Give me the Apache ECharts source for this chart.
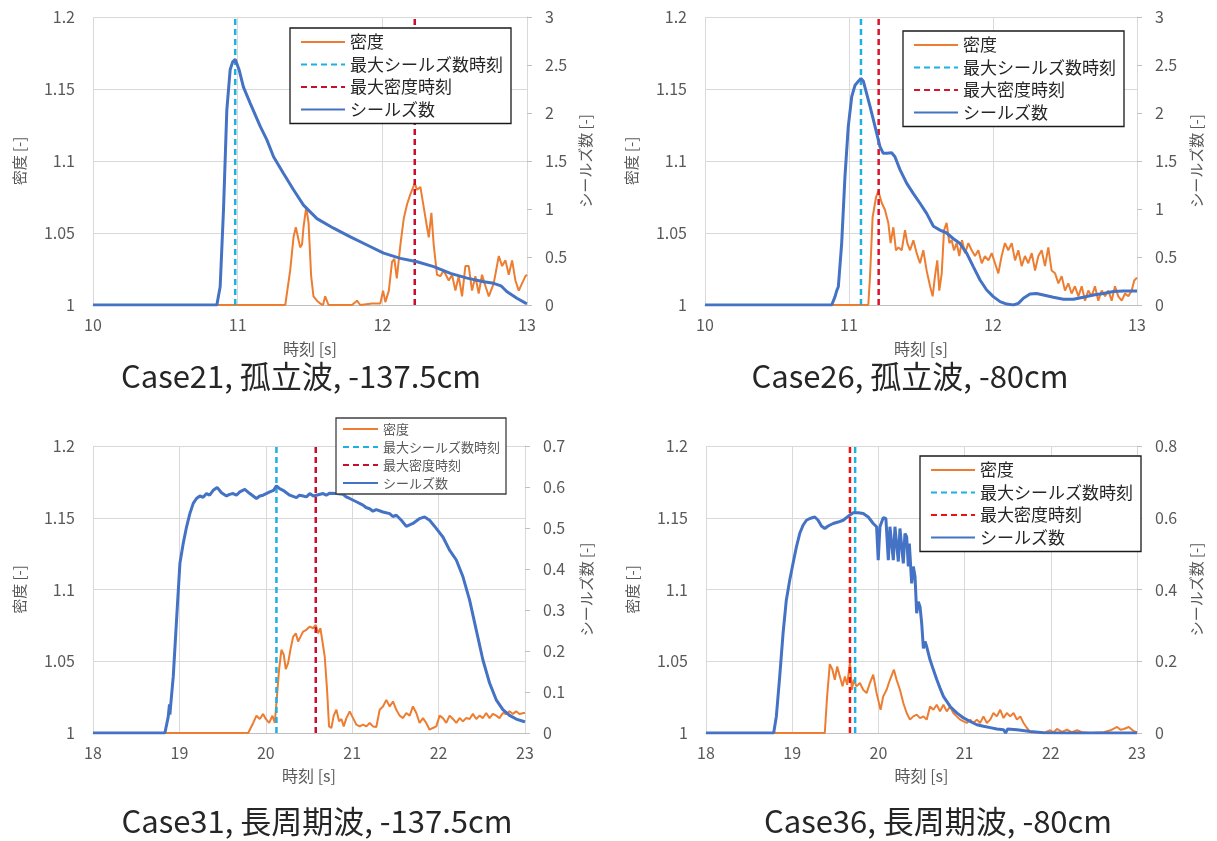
<!DOCTYPE html>
<html>
<head>
<meta charset="utf-8">
<script src="https://cdn.jsdelivr.net/npm/echarts@6/dist/echarts.min.js"></script>
<style>
  html, body { margin: 0; padding: 0; background: #ffffff; }
  #wrap { position: relative; width: 1217px; height: 841px; }
  .panel { position: absolute; }
</style>
</head>
<body>
<div id="wrap">
  <div id="p21" class="panel" style="left:0;top:0;width:608px;height:410px"></div>
  <div id="p26" class="panel" style="left:608px;top:0;width:609px;height:410px"></div>
  <div id="p31" class="panel" style="left:0;top:410px;width:608px;height:431px"></div>
  <div id="p36" class="panel" style="left:608px;top:410px;width:609px;height:431px"></div>
</div>
<script>
// ---- Series names (legend) ----
const NAME_DENSITY = '密度';
const NAME_MAX_SHIELDS_T = '最大シールズ数時刻';
const NAME_MAX_DENSITY_T = '最大密度時刻';
const NAME_SHIELDS = 'シールズ数';

// ---- Case21, 孤立波, -137.5cm : [time s, value] ----
const case21Density = [
  [10,1],[11.329,1],[11.363,1.024],[11.386,1.047],[11.402,1.054],[11.432,1.040],[11.445,1.042],
  [11.455,1.054],[11.474,1.068],[11.490,1.057],[11.508,1.020],[11.524,1.006],[11.548,1.003],
  [11.571,1.001],[11.59,1.0],[11.605,1.006],[11.628,1.0],[11.709,1.0],[11.79,1.0],[11.825,1.003],
  [11.847,1.0],[11.93,1.001],[11.986,1.001],[12.005,1.010],[12.021,1.002],[12.045,1.010],
  [12.067,1.030],[12.083,1.032],[12.10,1.0185],[12.125,1.042],[12.148,1.060],[12.171,1.070],
  [12.194,1.077],[12.224,1.0845],[12.240,1.080],[12.263,1.082],[12.286,1.068],[12.309,1.054],
  [12.321,1.047],[12.339,1.064],[12.355,1.042],[12.378,1.021],[12.401,1.020],[12.424,1.024],
  [12.459,1.017],[12.482,1.021],[12.505,1.010],[12.528,1.020],[12.551,1.006],[12.574,1.027],
  [12.597,1.027],[12.620,1.010],[12.643,1.020],[12.666,1.008],[12.689,1.021],[12.713,1.013],
  [12.736,1.006],[12.770,1.015],[12.805,1.034],[12.828,1.027],[12.851,1.031],[12.874,1.021],
  [12.897,1.031],[12.920,1.017],[12.943,1.010],[12.966,1.015],[12.989,1.020],[13,1.021]
];
const case21Shields = [
  [10,0],[10.856,0],[10.879,0.19],[10.902,0.99],[10.925,2.03],[10.948,2.45],[10.965,2.53],
  [10.983,2.56],[11.01,2.45],[11.04,2.27],[11.087,2.10],[11.156,1.86],[11.202,1.72],[11.248,1.545],
  [11.317,1.37],[11.386,1.20],[11.455,1.04],[11.548,0.90],[11.663,0.80],[11.779,0.71],[11.894,0.625],
  [12.009,0.54],[12.125,0.486],[12.24,0.45],[12.355,0.40],[12.471,0.33],[12.586,0.28],[12.701,0.243],
  [12.77,0.226],[12.82,0.20],[12.86,0.14],[12.93,0.07],[12.99,0.02],[13,0.015]
];
const case21MaxShieldsTime = 10.983;
const case21MaxDensityTime = 12.224;

// ---- Case26, 孤立波, -80cm ----
const case26Density = [
  [10,1],[11.134,1],[11.146,1.020],[11.164,1.061],[11.188,1.075],[11.204,1.079],[11.227,1.071],
  [11.250,1.066],[11.273,1.057],[11.289,1.043],[11.308,1.054],[11.326,1.038],[11.343,1.040],
  [11.366,1.038],[11.389,1.052],[11.405,1.043],[11.424,1.038],[11.447,1.045],[11.470,1.036],
  [11.493,1.029],[11.516,1.038],[11.539,1.024],[11.563,1.013],[11.581,1.006],[11.597,1.020],
  [11.613,1.031],[11.627,1.010],[11.644,1.022],[11.660,1.052],[11.678,1.057],[11.697,1.043],
  [11.713,1.045],[11.729,1.038],[11.748,1.043],[11.766,1.034],[11.785,1.045],[11.806,1.036],
  [11.829,1.043],[11.852,1.038],[11.875,1.034],[11.898,1.038],[11.922,1.029],[11.944,1.034],
  [11.968,1.031],[11.991,1.036],[12.014,1.029],[12.037,1.022],[12.060,1.034],[12.083,1.043],
  [12.106,1.038],[12.130,1.043],[12.153,1.031],[12.176,1.038],[12.199,1.027],[12.222,1.034],
  [12.245,1.029],[12.269,1.036],[12.292,1.024],[12.315,1.034],[12.338,1.038],[12.361,1.027],
  [12.384,1.040],[12.407,1.024],[12.431,1.022],[12.454,1.015],[12.477,1.020],[12.500,1.010],
  [12.523,1.015],[12.546,1.008],[12.569,1.013],[12.593,1.006],[12.616,1.013],[12.639,1.003],
  [12.662,1.010],[12.685,1.006],[12.708,1.013],[12.731,1.003],[12.755,1.010],[12.778,1.006],
  [12.801,1.010],[12.824,1.003],[12.847,1.013],[12.870,1.006],[12.894,1.003],[12.917,1.008],
  [12.940,1.006],[12.963,1.010],[12.981,1.017],[13,1.019]
];
const case26Shields = [
  [10,0],[10.88,0],[10.903,0.087],[10.915,0.15],[10.926,0.19],[10.949,0.64],[10.972,1.34],
  [10.995,1.86],[11.019,2.17],[11.042,2.29],[11.065,2.33],[11.083,2.36],[11.100,2.33],[11.123,2.20],
  [11.146,2.07],[11.169,1.93],[11.192,1.79],[11.215,1.65],[11.238,1.58],[11.262,1.58],[11.296,1.585],
  [11.319,1.545],[11.354,1.41],[11.400,1.27],[11.447,1.16],[11.493,1.06],[11.539,0.955],[11.586,0.82],
  [11.632,0.78],[11.678,0.75],[11.725,0.69],[11.771,0.64],[11.817,0.54],[11.863,0.40],[11.910,0.26],
  [11.956,0.156],[12.002,0.087],[12.049,0.035],[12.095,0.01],[12.141,0],[12.176,0.017],[12.211,0.07],
  [12.257,0.115],[12.303,0.12],[12.350,0.104],[12.419,0.08],[12.489,0.06],[12.558,0.06],[12.627,0.08],
  [12.697,0.104],[12.766,0.12],[12.836,0.14],[12.905,0.146],[12.975,0.146],[13,0.146]
];
const case26MaxShieldsTime = 11.083;
const case26MaxDensityTime = 11.206;

// ---- Case31, 長周期波, -137.5cm ----
const case31Density = [
  [18,1],[19.796,1],[19.854,1.007],[19.892,1.012],[19.931,1.0098],[19.969,1.0133],[20.000,1.0098],
  [20.039,1.007],[20.077,1.012],[20.104,1.007],[20.123,1.021],[20.154,1.0445],[20.181,1.058],
  [20.208,1.0545],[20.231,1.0445],[20.258,1.0487],[20.285,1.058],[20.316,1.067],[20.347,1.0695],
  [20.374,1.0638],[20.401,1.067],[20.432,1.0707],[20.470,1.0719],[20.509,1.0742],[20.547,1.073],
  [20.578,1.0753],[20.605,1.0695],[20.632,1.073],[20.655,1.0719],[20.682,1.0533],[20.709,1.0301],
  [20.732,1.0046],[20.759,1.0035],[20.786,1.0121],[20.817,1.0162],[20.848,1.0081],[20.875,1.0098],
  [20.902,1.0046],[20.933,1.0104],[20.971,1.0151],[21.010,1.0104],[21.048,1.0058],[21.087,1.0046],
  [21.125,1.0058],[21.164,1.0046],[21.202,1.007],[21.241,1.0046],[21.279,1.0042],[21.318,1.0162],
  [21.356,1.0185],[21.395,1.0231],[21.434,1.0185],[21.472,1.022],[21.511,1.0162],[21.549,1.0121],
  [21.588,1.0104],[21.626,1.0139],[21.665,1.0121],[21.703,1.0185],[21.742,1.0139],[21.780,1.007],
  [21.819,1.0104],[21.857,1.007],[21.896,1.0023],[21.934,1.0035],[21.973,1.0046],[22.012,1.0121],
  [22.050,1.0104],[22.089,1.007],[22.127,1.0121],[22.166,1.0098],[22.205,1.007],[22.243,1.0104],
  [22.281,1.0081],[22.320,1.0104],[22.359,1.0098],[22.397,1.0133],[22.436,1.0098],[22.474,1.0121],
  [22.513,1.0104],[22.551,1.0139],[22.590,1.0104],[22.628,1.0133],[22.667,1.0121],[22.705,1.0104],
  [22.744,1.0139],[22.783,1.0133],[22.821,1.0151],[22.859,1.0133],[22.898,1.0151],[22.936,1.0133],
  [22.986,1.0139],[23,1.014]
];
const case31Shields = [
  [18,0],[18.832,0],[18.871,0.04],[18.885,0.07],[18.89,0.045],[18.898,0.065],[18.929,0.138],
  [18.967,0.276],[19.006,0.414],[19.044,0.462],[19.083,0.503],[19.121,0.535],[19.160,0.56],
  [19.198,0.572],[19.237,0.578],[19.275,0.575],[19.314,0.584],[19.35,0.58],[19.391,0.592],
  [19.437,0.599],[19.487,0.586],[19.545,0.578],[19.58,0.582],[19.622,0.584],[19.66,0.58],
  [19.699,0.588],[19.757,0.594],[19.815,0.584],[19.892,0.572],[19.93,0.578],[19.969,0.580],
  [20.046,0.588],[20.09,0.592],[20.123,0.603],[20.16,0.596],[20.200,0.592],[20.277,0.58],
  [20.355,0.574],[20.39,0.58],[20.432,0.578],[20.47,0.576],[20.509,0.584],[20.55,0.578],
  [20.586,0.58],[20.663,0.584],[20.70,0.58],[20.740,0.585],[20.817,0.584],[20.894,0.582],
  [20.93,0.576],[20.971,0.572],[21.048,0.564],[21.125,0.556],[21.16,0.55],[21.202,0.547],
  [21.24,0.541],[21.279,0.545],[21.356,0.539],[21.434,0.535],[21.47,0.528],[21.511,0.531],
  [21.569,0.519],[21.626,0.504],[21.703,0.511],[21.780,0.523],[21.838,0.527],[21.896,0.519],
  [21.973,0.499],[22.050,0.478],[22.127,0.446],[22.205,0.422],[22.282,0.381],[22.359,0.324],
  [22.436,0.251],[22.513,0.178],[22.590,0.122],[22.667,0.081],[22.744,0.057],[22.821,0.043],
  [22.898,0.034],[22.986,0.028],[23,0.027]
];
const case31MaxShieldsTime = 20.123;
const case31MaxDensityTime = 20.578;

// ---- Case36, 長周期波, -80cm ----
const case36Density = [
  [18,1],[19.378,1],[19.405,1.0255],[19.436,1.048],[19.467,1.0441],[19.494,1.0371],[19.522,1.0464],
  [19.553,1.0394],[19.584,1.0325],[19.611,1.0394],[19.638,1.0336],[19.67,1.049],[19.692,1.0301],
  [19.715,1.0371],[19.746,1.0325],[19.785,1.0348],[19.824,1.0301],[19.863,1.0278],[19.901,1.0348],
  [19.940,1.0406],[19.979,1.0278],[20.025,1.0162],[20.056,1.0255],[20.095,1.0301],[20.134,1.0371],
  [20.180,1.0441],[20.211,1.0371],[20.250,1.0301],[20.289,1.0209],[20.328,1.0139],[20.366,1.0093],
  [20.405,1.0116],[20.444,1.0128],[20.483,1.0104],[20.522,1.0116],[20.560,1.0093],[20.599,1.0185],
  [20.638,1.0162],[20.677,1.0197],[20.715,1.0151],[20.754,1.0197],[20.793,1.0151],[20.832,1.0185],
  [20.870,1.0139],[20.909,1.0116],[20.948,1.0093],[20.987,1.0081],[21.025,1.007],[21.064,1.0093],
  [21.103,1.007],[21.142,1.0093],[21.180,1.007],[21.219,1.0116],[21.258,1.007],[21.297,1.0093],
  [21.335,1.0139],[21.374,1.0116],[21.413,1.0162],[21.452,1.0104],[21.490,1.0139],[21.529,1.0116],
  [21.568,1.0139],[21.607,1.0093],[21.646,1.0116],[21.684,1.007],[21.723,1.0035],[21.762,1.0005],
  [21.839,1.0005],[21.917,1.0],[21.994,1.0019],[22.033,1.0005],[22.072,1.0028],[22.130,1.0008],
  [22.188,1.0023],[22.246,1.0005],[22.304,1.0019],[22.363,1.0005],[22.459,1.0],[22.614,1.0005],
  [22.692,1.0019],[22.770,1.0042],[22.808,1.0023],[22.847,1.0028],[22.905,1.0042],[22.963,1.0012],
  [23,1.0005]
];
const case36Shields = [
  [18,0],[18.785,0],[18.816,0.046],[18.855,0.157],[18.894,0.278],[18.932,0.371],[18.971,0.426],
  [19.010,0.473],[19.049,0.519],[19.087,0.556],[19.126,0.579],[19.165,0.593],[19.204,0.598],
  [19.262,0.602],[19.301,0.593],[19.339,0.577],[19.378,0.570],[19.417,0.577],[19.475,0.584],
  [19.533,0.588],[19.591,0.593],[19.649,0.604],[19.708,0.614],[19.73,0.616],[19.766,0.614],
  [19.824,0.612],[19.882,0.602],[19.940,0.584],[19.979,0.575],[19.998,0.482],[20.018,0.575],
  [20.056,0.600],[20.087,0.598],[20.115,0.482],[20.134,0.575],[20.153,0.577],[20.173,0.482],
  [20.192,0.575],[20.211,0.579],[20.231,0.478],[20.250,0.570],[20.270,0.566],[20.289,0.473],
  [20.308,0.556],[20.328,0.547],[20.347,0.464],[20.359,0.528],[20.386,0.417],[20.405,0.464],
  [20.425,0.436],[20.444,0.334],[20.463,0.366],[20.483,0.352],[20.502,0.306],[20.522,0.236],
  [20.541,0.255],[20.560,0.241],[20.599,0.204],[20.638,0.176],[20.677,0.149],[20.715,0.125],
  [20.754,0.102],[20.832,0.074],[20.909,0.056],[20.987,0.042],[21.064,0.032],[21.142,0.023],
  [21.219,0.019],[21.297,0.015],[21.374,0.011],[21.452,0.009],[21.475,0],[21.498,0.011],
  [21.607,0.009],[21.762,0.004],[21.917,0.001],[22.2,0],[23,0]
];
const case36MaxShieldsTime = 19.73;
const case36MaxDensityTime = 19.67;

// ---- Axis ranges ----
const densityRange = [1, 1.2, 0.05];
const solitaryTimeRange = [10, 13, 1];
const longWaveTimeRange = [18, 23, 1];
const solitaryShieldsRange = [0, 3, 0.5];
const case31ShieldsRange = [0, 0.7, 0.1];
const case36ShieldsRange = [0, 0.8, 0.2];

// ---- Styling ----
const FONT = '"Noto Sans CJK JP", "Noto Sans", sans-serif';
const C_DENSITY = '#ED7D31';
const C_SHIELDS = '#4472C4';
const C_CYAN = '#1DB0E2';
const GRID_LINE = '#D9D9D9';
const AXIS_TEXT = '#595959';

function buildPanel(domId, p) {
  const chart = echarts.init(document.getElementById(domId), null, { renderer: 'canvas' });
  const vline = (t) => [[t, densityRange[0]], [t, densityRange[1]]];
  const lg = p.legend;
  const option = {
    animation: false,
    textStyle: { fontFamily: FONT },
    grid: p.grid,
    legend: {
      orient: 'vertical',
      left: lg.left, top: lg.top,
      backgroundColor: '#ffffff',
      borderColor: lg.border, borderWidth: 1.3,
      padding: lg.padding,
      itemWidth: lg.itemWidth, itemHeight: lg.itemHeight, itemGap: lg.itemGap,
      // keep only the line sample in each legend key
      itemStyle: { opacity: 0 },
      textStyle: { fontFamily: FONT, fontSize: lg.fontSize, lineHeight: lg.lineHeight, color: lg.color, padding: [0, 0, 0, 0] },
      data: [NAME_DENSITY, NAME_MAX_SHIELDS_T, NAME_MAX_DENSITY_T, NAME_SHIELDS]
    },
    xAxis: {
      type: 'value',
      min: p.time[0], max: p.time[1], interval: p.time[2],
      name: '時刻 [s]', nameLocation: 'middle', nameGap: p.xNameGap,
      nameTextStyle: { fontFamily: FONT, fontSize: 16, color: AXIS_TEXT },
      axisLine: { show: true, lineStyle: { color: '#BFBFBF', width: 1 } },
      axisTick: { show: false },
      axisLabel: { fontFamily: FONT, fontSize: 16, color: AXIS_TEXT, margin: 12 },
      splitLine: { show: true, lineStyle: { color: GRID_LINE, width: 1 } }
    },
    yAxis: [
      {
        type: 'value', position: 'left',
        min: densityRange[0], max: densityRange[1], interval: densityRange[2],
        name: '密度 [-]', nameLocation: 'middle', nameGap: p.yNameGapL, nameRotate: 90,
        nameTextStyle: { fontFamily: FONT, fontSize: 15, color: AXIS_TEXT },
        axisLine: { show: false }, axisTick: { show: false },
        axisLabel: { fontFamily: FONT, fontSize: 16, color: AXIS_TEXT, margin: 18 },
        splitLine: { show: true, lineStyle: { color: GRID_LINE, width: 1 } }
      },
      {
        type: 'value', position: 'right',
        min: p.shields[0], max: p.shields[1], interval: p.shields[2],
        name: 'シールズ数 [-]', nameLocation: 'middle', nameGap: p.yNameGapR, nameRotate: 90,
        nameTextStyle: { fontFamily: FONT, fontSize: 15, color: AXIS_TEXT },
        axisLine: { show: true, lineStyle: { color: GRID_LINE, width: 1 } },
        axisTick: { show: true, inside: false, length: 5, lineStyle: { color: '#BFBFBF' } },
        axisLabel: { fontFamily: FONT, fontSize: 16, color: AXIS_TEXT, margin: 18 },
        splitLine: { show: false }
      }
    ],
    series: [
      {
        name: NAME_DENSITY, type: 'line', yAxisIndex: 0, data: p.density,
        symbol: 'none', lineStyle: { color: C_DENSITY, width: 2 }, itemStyle: { color: C_DENSITY }
      },
      {
        name: NAME_MAX_SHIELDS_T, type: 'line', yAxisIndex: 0, data: vline(p.maxShieldsTime),
        symbol: 'none', lineStyle: { color: C_CYAN, width: 2.5, type: [6, 4] }, itemStyle: { color: C_CYAN }
      },
      {
        name: NAME_MAX_DENSITY_T, type: 'line', yAxisIndex: 0, data: vline(p.maxDensityTime),
        symbol: 'none', lineStyle: { color: p.red, width: 2.5, type: [6, 4] }, itemStyle: { color: p.red }
      },
      {
        name: NAME_SHIELDS, type: 'line', yAxisIndex: 1, data: p.shieldsData,
        symbol: 'none', lineStyle: { color: C_SHIELDS, width: 3 }, itemStyle: { color: C_SHIELDS }
      }
    ],
    graphic: [{
      type: 'text', x: p.title.x, y: p.title.y, silent: true,
      style: {
        text: p.title.text, fontFamily: FONT, fontSize: 31, fill: '#262626',
        align: 'center', verticalAlign: 'middle'
      }
    }]
  };
  chart.setOption(option);
}

const bigLegend = (left, top) => ({
  left, top, padding: [5, 8, 5, 10], itemWidth: 44, itemHeight: 14, itemGap: 4.5,
  fontSize: 17, lineHeight: 18, color: '#262626', border: '#1a1a1a'
});

buildPanel('p21', {
  grid: { left: 93, top: 17, width: 434, height: 288 },
  legend: bigLegend(290, 28),
  time: solitaryTimeRange, shields: solitaryShieldsRange,
  density: case21Density, shieldsData: case21Shields,
  maxShieldsTime: case21MaxShieldsTime, maxDensityTime: case21MaxDensityTime,
  red: '#C8102E', xNameGap: 36, yNameGapL: 66, yNameGapR: 49,
  title: { x: 301, y: 376, text: 'Case21, 孤立波, -137.5cm' }
});

buildPanel('p26', {
  grid: { left: 97, top: 17, width: 432, height: 288 },
  legend: bigLegend(295, 31),
  time: solitaryTimeRange, shields: solitaryShieldsRange,
  density: case26Density, shieldsData: case26Shields,
  maxShieldsTime: case26MaxShieldsTime, maxDensityTime: case26MaxDensityTime,
  red: '#D9142B', xNameGap: 36, yNameGapL: 66, yNameGapR: 52,
  title: { x: 302, y: 376, text: 'Case26, 孤立波, -80cm' }
});

buildPanel('p31', {
  grid: { left: 93, top: 36, width: 432, height: 287 },
  legend: {
    left: 336, top: 8, padding: [4, 6, 4, 6], itemWidth: 35, itemHeight: 10, itemGap: 4,
    fontSize: 13, lineHeight: 14, color: '#595959', border: '#404040'
  },
  time: longWaveTimeRange, shields: case31ShieldsRange,
  density: case31Density, shieldsData: case31Shields,
  maxShieldsTime: case31MaxShieldsTime, maxDensityTime: case31MaxDensityTime,
  red: '#C8102E', xNameGap: 35, yNameGapL: 66, yNameGapR: 54,
  title: { x: 317, y: 411, text: 'Case31, 長周期波, -137.5cm' }
});

buildPanel('p36', {
  grid: { left: 98, top: 36, width: 431, height: 287 },
  legend: bigLegend(312, 46),
  time: longWaveTimeRange, shields: case36ShieldsRange,
  density: case36Density, shieldsData: case36Shields,
  maxShieldsTime: case36MaxShieldsTime, maxDensityTime: case36MaxDensityTime,
  red: '#F01010', xNameGap: 35, yNameGapL: 66, yNameGapR: 52,
  title: { x: 330, y: 411, text: 'Case36, 長周期波, -80cm' }
});
</script>
</body>
</html>
